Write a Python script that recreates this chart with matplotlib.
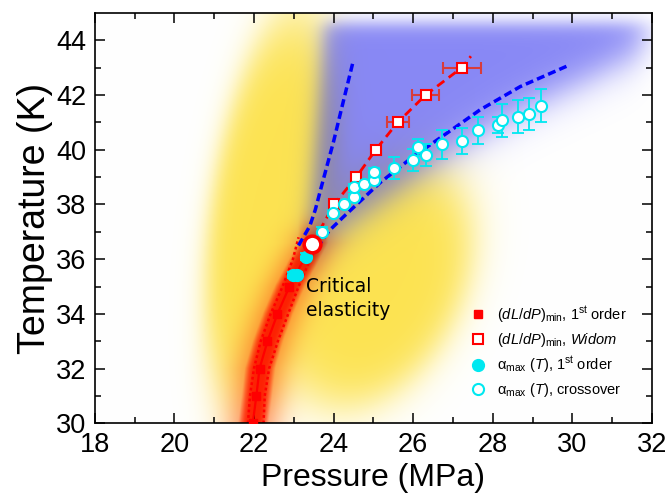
import numpy as np
import matplotlib.pyplot as plt

plt.rcParams['mathtext.fontset'] = 'custom'
plt.rcParams['mathtext.rm'] = 'Liberation Sans'
plt.rcParams['mathtext.it'] = 'Liberation Sans:italic'

# ---- data ----
first_P = [21.97, 22.06, 22.14, 22.34, 22.59, 22.89]   # (dL/dP)min, 1st order
first_T = [30.0, 31.0, 32.0, 33.0, 34.0, 35.0]
crit_P, crit_T = 23.47, 36.57

widom_P = [24.01, 24.57, 25.06, 25.61, 26.31, 27.22]
widom_T = [38.0, 39.0, 40.0, 41.0, 42.0, 43.0]
widom_xerr = [0.08, 0.06, 0.13, 0.28, 0.34, 0.48]
widom_end_P, widom_end_T = 27.45, 43.42

alpha1_P = [22.98, 23.08, 23.31]
alpha1_T = [35.42, 35.42, 36.09]
alpha1_err = [0.12, 0.12, 0.12]

cross_P = [23.70, 23.99, 24.26, 24.52, 24.52, 24.77, 25.02, 25.02, 25.52, 26.00,
           26.13, 26.32, 26.72, 27.22, 27.62, 28.13, 28.23, 28.63, 28.92, 29.22]
cross_T = [37.01, 37.68, 38.02, 38.29, 38.63, 38.74, 38.90, 39.18, 39.32, 39.61,
           40.09, 39.80, 40.20, 40.32, 40.71, 40.91, 41.08, 41.21, 41.31, 41.61]
cross_err = [0.15, 0.10, 0.12, 0.10, 0.12, 0.10, 0.10, 0.15, 0.40, 0.40,
             0.30, 0.41, 0.52, 0.49, 0.50, 0.30, 0.60, 0.60, 0.60, 0.60]

dot_left_P = [21.85, 21.90, 22.00, 22.17, 22.42, 22.72, 22.98, 23.12]
dot_left_T = [30.0, 31.0, 32.0, 33.0, 34.0, 35.0, 36.0, 36.8]
dot_right_P = [22.24, 22.27, 22.38, 22.60, 22.86, 23.12, 23.40, 23.62]
dot_right_T = [30.0, 31.0, 32.0, 33.0, 34.0, 35.0, 35.95, 36.6]

steep_P = [23.12, 23.40, 23.54, 23.74, 24.00, 24.20, 24.48]
steep_T = [36.50, 37.20, 37.80, 38.90, 40.30, 41.50, 43.16]
curve_P = [23.60, 23.71, 23.91, 24.25, 25.17, 26.00, 26.84, 27.68, 28.69, 29.85]
curve_T = [36.40, 36.70, 37.07, 37.55, 38.80, 39.75, 40.60, 41.46, 42.31, 43.05]

# lower edge of the blue shaded region
blue_edge_P = [23.3, 24.0, 25.0, 26.0, 27.0, 28.0, 29.0, 30.0, 31.0, 32.0]
blue_edge_T = [36.0, 36.9, 37.9, 38.9, 39.9, 40.8, 41.6, 42.3, 43.0, 43.6]

RED = '#ff0000'
CYAN = '#00e8f0'

fig = plt.figure(figsize=(6.69, 4.94), dpi=100)
ax = fig.add_axes([0.1416, 0.1431, 0.8330, 0.8306])

# ---- blurred background regions ----
sx, sy = 39.8, 27.35   # px per MPa, px per K
PP, TT = np.meshgrid(np.linspace(18, 32, 700), np.linspace(30, 45, 750))
X = (PP - 18) * sx
Y = (TT - 30) * sy


def sig(z):
    return 1.0 / (1.0 + np.exp(-z))


def blob(pc, tc, a, b, soft, tilt=0.0):
    cx = (pc - 18) * sx
    cy = (tc - 30) * sy
    u = (X - cx - tilt * (Y - cy)) / a
    v = (Y - cy) / b
    r = np.sqrt(u ** 2 + v ** 2)
    return sig(-(r - 1) / soft)


a_yel = 1 - (1 - blob(22.45, 37.6, 62, 200, 0.11, tilt=0.12)) \
    * (1 - blob(25.05, 35.1, 90, 122, 0.12, tilt=0.25))

Tb = np.interp(PP, blue_edge_P, blue_edge_T)
Pl = 23.35 + (TT - 36.5) * 0.05
a_blue = 0.97 * sig((TT - Tb) * sy / 12) * sig((PP - Pl) * sx / 6) \
    * sig((44.6 - TT) * sy / 5) * sig((31.8 - PP) * sx / 9)

Pc = np.interp(TT, first_T + [crit_T], first_P + [crit_P])
dpx = np.abs(PP - Pc) * sx
a_red = np.maximum(0.97 * np.exp(-(dpx / 15) ** 4), 0.45 * np.exp(-(dpx / 26) ** 2))
a_red = a_red * sig((36.9 - TT) * sy / 8)

a_yel = a_yel * (1 - 0.55 * a_blue)
img = np.ones(PP.shape + (3,))
for a, c in [(a_yel, (0.99, 0.89, 0.32)), (a_blue, (0.52, 0.52, 0.96)), (a_red, (1.0, 0.12, 0.0))]:
    img *= 1 - a[..., None] * (1 - np.array(c))
ax.imshow(img, extent=(18, 32, 30, 45), origin='lower', aspect='auto',
          interpolation='bilinear', zorder=0)

# ---- lines ----
ax.plot(dot_left_P, dot_left_T, color=RED, lw=1.8, ls=(0, (1.1, 1.1)), zorder=2)
ax.plot(dot_right_P, dot_right_T, color=RED, lw=1.8, ls=(0, (1.1, 1.1)), zorder=2)
ax.plot(steep_P, steep_T, color='#0000ff', lw=2.5, ls=(0, (2.3, 1.2)), zorder=2)
ax.plot(curve_P, curve_T, color='#0000ff', lw=2.5, ls=(0, (2.3, 1.2)), zorder=2)
ax.plot(first_P + [crit_P], first_T + [crit_T], color=RED, lw=1.6, zorder=3)
ax.plot([crit_P] + widom_P + [widom_end_P], [crit_T] + widom_T + [widom_end_T],
        color=RED, lw=2, ls=(0, (3.2, 2)), zorder=3)

# ---- error bars ----
ax.errorbar(widom_P, widom_T, xerr=widom_xerr, fmt='none', ecolor='#d83c3c',
            elinewidth=1.5, capsize=4, capthick=1.5, zorder=4)
ax.errorbar(cross_P, cross_T, yerr=cross_err, fmt='none', ecolor=CYAN,
            elinewidth=1.3, capsize=4, capthick=1.3, zorder=4)
ax.errorbar(alpha1_P, alpha1_T, yerr=alpha1_err, fmt='none', ecolor=CYAN,
            elinewidth=1.3, capsize=4, capthick=1.3, zorder=4)

# ---- markers ----
ax.plot(first_P, first_T, 's', color=RED, ms=6, ls='none',
        label=r'$(dL/dP)_{\rm min}$, 1$^{\rm st}$ order', zorder=5)
ax.plot(widom_P, widom_T, 's', mfc='white', mec=RED, mew=1.5, ms=7, ls='none',
        label=r'$(dL/dP)_{\rm min}$, $Widom$', zorder=5)
ax.plot(alpha1_P, alpha1_T, 'o', color=CYAN, ms=8.5, ls='none',
        label=r'α$_{\rm max}$ ($T$), 1$^{\rm st}$ order', zorder=5)
ax.plot(cross_P, cross_T, 'o', mfc='white', mec=CYAN, mew=1.5, ms=8, ls='none',
        label=r'α$_{\rm max}$ ($T$), crossover', zorder=5)
ax.plot([crit_P], [crit_T], 'o', mfc='white', mec=RED, mew=2.5, ms=12, zorder=6)

ax.text(23.3, 34.55, 'Critical\nelasticity', fontsize=13.5, family='DejaVu Sans',
        ha='left', va='center', linespacing=1.35, zorder=7)

# ---- axes ----
ax.set_xlim(18, 32)
ax.set_ylim(30, 45)
ax.set_xticks(np.arange(18, 33, 2))
ax.set_yticks(np.arange(30, 45, 2))
ax.set_xticks(np.arange(19, 32, 2), minor=True)
ax.set_yticks(np.arange(31, 45, 2), minor=True)
ax.tick_params(which='both', direction='in', top=True, right=True, width=1.1)
ax.tick_params(which='major', length=7, labelsize=19.5, pad=6)
ax.tick_params(which='minor', length=4)
for lab in ax.get_xticklabels() + ax.get_yticklabels():
    lab.set_family('Liberation Sans')
for s in ax.spines.values():
    s.set_linewidth(1.2)
ax.set_xlabel('Pressure (MPa)', fontsize=23, family='Liberation Sans', labelpad=4)
ax.set_ylabel('Temperature (K)', fontsize=27, family='Liberation Sans', labelpad=2)

leg = ax.legend(loc='lower left', bbox_to_anchor=(0.662, 0.045), frameon=False,
                prop={'family': 'Liberation Sans', 'size': 10.5}, handlelength=1.2,
                handletextpad=0.7, labelspacing=0.4, borderaxespad=0)

fig.savefig('out.png', dpi=100)
